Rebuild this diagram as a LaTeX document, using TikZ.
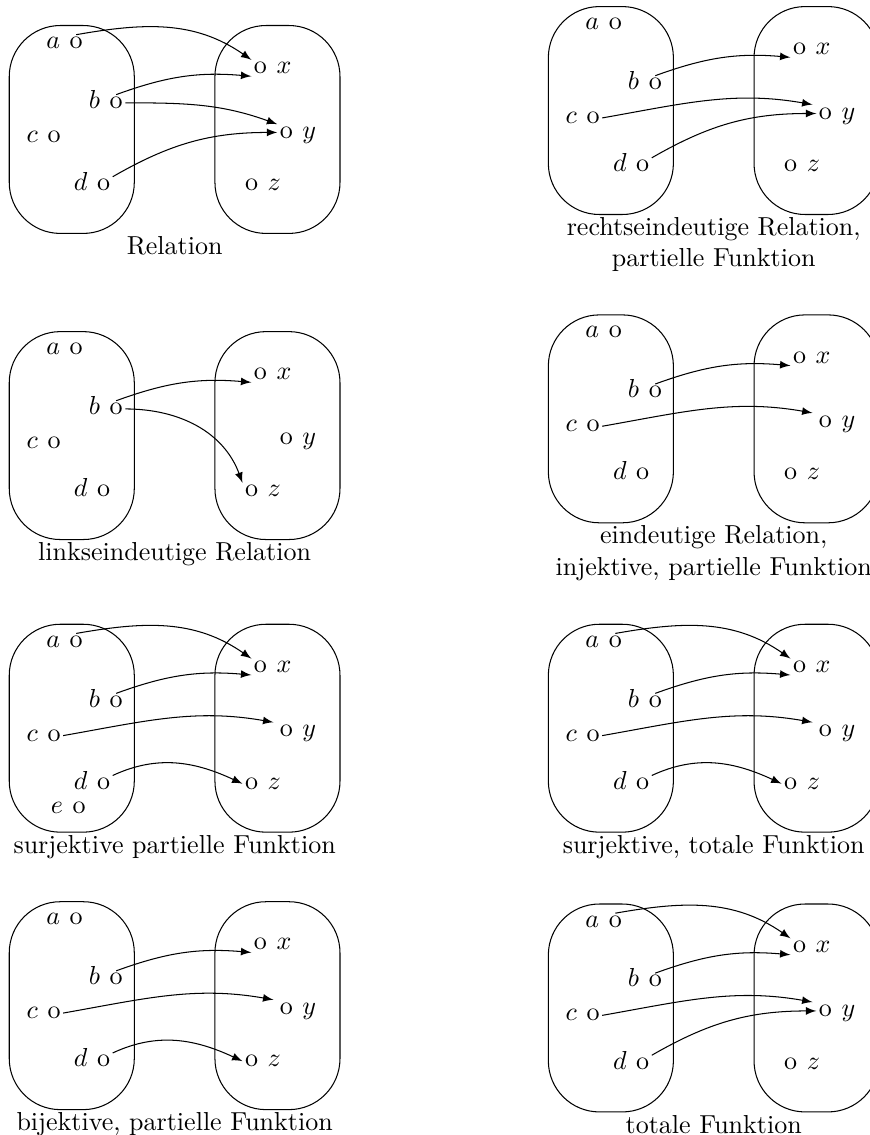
\documentclass[tikz,border=0pt]{standalone}
\usetikzlibrary{positioning}

\begin{document}
\begin{tikzpicture}[
    menge/.style={draw, rounded corners=0.69cm, minimum width=1.69cm, minimum height=2.81cm, inner sep=0pt},
    pkt/.style={inner sep=0.8pt, text height=1ex, text depth=0pt},
    every label/.style={inner sep=0pt, text height=1ex, text depth=0pt},
    label distance=2.5pt,
    titel/.style={anchor=north, inner sep=0pt, align=center},
    arr/.style={-latex},
    mengen/.pic={
        \node[menge] (-links) at (0,0) {};
        \node[menge] (-rechts) at (2.78,0) {};
        \node[pkt, label=left:$a$] (-a) at (0.06,1.17) {o};
        \node[pkt, label=left:$b$] (-b) at (0.6,0.36) {o};
        \node[pkt, label=left:$c$] (-c) at (-0.24,-0.1) {o};
        \node[pkt, label=left:$d$] (-d) at (0.43,-0.75) {o};
        \node[pkt, label=right:$x$] (-x) at (2.55,0.83) {o};
        \node[pkt, label=right:$y$] (-y) at (2.9,-0.04) {o};
        \node[pkt, label=right:$z$] (-z) at (2.43,-0.75) {o};
        \node[titel] (-titel) at (1.39,-1.44) {#1};
    }
]
\useasboundingbox (0,0) rectangle (11.75,-15.34);

% Relation
\pic (p1) at (0.97,-1.75) {mengen=Relation};
\draw[arr] (p1-a.north) to[out=10, in=145] (p1-x.north west);
\draw[arr] (p1-b.north) to[out=20, in=175] (p1-x.south west);
\draw[arr] (p1-b.east) to[out=0, in=160] (p1-y.north west);
\draw[arr] (p1-d.north east) to[out=30, in=180] (p1-y.west);

% rechtseindeutig
\pic (p2) at (8.256,-1.494) {mengen={rechtseindeutige Relation,\\ partielle Funktion}};
\draw[arr] (p2-b.north) to[out=20, in=175] (p2-x.south west);
\draw[arr, shorten >=1.5pt] (p2-c.east) to[out=10, in=170] (p2-y.north west);
\draw[arr] (p2-d.north east) to[out=30, in=180] (p2-y.west);

% linkseindeutig
\pic (p3) at (0.97,-5.887) {mengen=linkseindeutige Relation};
\draw[arr] (p3-b.north) to[out=20, in=175] (p3-x.south west);
\draw[arr] (p3-b.east) to[out=0, in=110] (p3-z.north west);

% eindeutig
\pic (p4) at (8.256,-5.661) {mengen={eindeutige Relation,\\ injektive, partielle Funktion}};
\draw[arr] (p4-b.north) to[out=20, in=175] (p4-x.south west);
\draw[arr, shorten >=1.5pt] (p4-c.east) to[out=10, in=170] (p4-y.north west);

% surjektiv, partiell (mit e)
\pic (p5) at (0.97,-9.842) {mengen=surjektive partielle Funktion};
\node[pkt, label=left:$e$] (p5-e) at ([shift={(0.1,-1.08)}]p5-links.center) {o};
\draw[arr] (p5-a.north) to[out=10, in=145] (p5-x.north west);
\draw[arr] (p5-b.north) to[out=20, in=175] (p5-x.south west);
\draw[arr, shorten >=1.5pt] (p5-c.east) to[out=10, in=170] (p5-y.north west);
\draw[arr] (p5-d.north east) to[out=25, in=155] (p5-z.west);

% surjektiv, total
\pic (p6) at (8.256,-9.842) {mengen={surjektive, totale Funktion}};
\draw[arr] (p6-a.north) to[out=10, in=145] (p6-x.north west);
\draw[arr] (p6-b.north) to[out=20, in=175] (p6-x.south west);
\draw[arr, shorten >=1.5pt] (p6-c.east) to[out=10, in=170] (p6-y.north west);
\draw[arr] (p6-d.north east) to[out=25, in=155] (p6-z.west);

% bijektiv
\pic (p7) at (0.97,-13.592) {mengen={bijektive, partielle Funktion}};
\draw[arr] (p7-b.north) to[out=20, in=175] (p7-x.south west);
\draw[arr, shorten >=1.5pt] (p7-c.east) to[out=10, in=170] (p7-y.north west);
\draw[arr] (p7-d.north east) to[out=25, in=155] (p7-z.west);

% total
\pic (p8) at (8.256,-13.623) {mengen=totale Funktion};
\draw[arr] (p8-a.north) to[out=10, in=145] (p8-x.north west);
\draw[arr] (p8-b.north) to[out=20, in=175] (p8-x.south west);
\draw[arr, shorten >=1.5pt] (p8-c.east) to[out=10, in=170] (p8-y.north west);
\draw[arr] (p8-d.north east) to[out=30, in=180] (p8-y.west);
\end{tikzpicture}
\end{document}
